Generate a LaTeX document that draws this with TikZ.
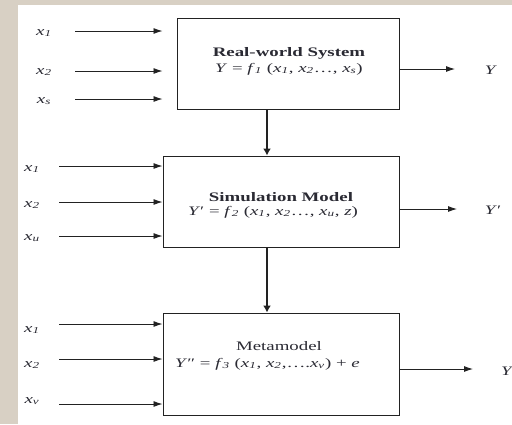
\documentclass[tikz,border=0pt]{standalone}
\usepackage{fontspec}
\setmainfont{Liberation Serif}
\usetikzlibrary{arrows.meta}
\definecolor{beige}{HTML}{D8D0C4}
\definecolor{ink}{HTML}{2A2A33}
\definecolor{linec}{HTML}{222222}
\newcommand{\st}[1]{\scalebox{1.45}[1]{#1}}
\newcommand{\sx}[1]{\textsubscript{\textit{#1}}}
\newcommand{\vx}[1]{\textit{x}\sx{#1}}
\begin{document}
\begin{tikzpicture}[x=1pt,y=-1pt,
  font=\fontsize{13}{15}\selectfont,
  box/.style={draw=linec, line width=1pt, fill=white, inner sep=0pt, rectangle},
  lbl/.style={text=ink, inner sep=0pt},
  harr/.style={draw=linec, line width=0.9pt, -{Latex[length=9pt,width=6pt]}},
  varr/.style={draw=linec, line width=1.3pt, -{Latex[length=7pt,width=8pt]}}]
\useasboundingbox (0,0) rectangle (512,424);
\fill[beige] (0,0) rectangle (512,424);
\fill[white] (18,5) rectangle (512,424);
% boxes
\node[box, minimum width=222pt, minimum height=91pt] (b1) at (288,63.5) {};
\node[box, minimum width=236pt, minimum height=91pt] (b2) at (281,201.5) {};
\node[box, minimum width=236pt, minimum height=102pt] (b3) at (281,364) {};
% box texts
\node[lbl, anchor=base] (t1a) at (289,56) {\st{\textbf{Real-world System}}};
\node[lbl, anchor=base] (t1b) at (289,72) {\st{\textit{Y} = \textit{f}\sx{1} (\vx{1}, \vx{2}\ldots, \vx{s})}};
\node[lbl, anchor=base] (t2a) at (281,201) {\st{\textbf{Simulation Model}}};
\node[lbl, anchor=base] (t2b) at (273,215) {\st{\textit{Y}′ = \textit{f}\sx{2} (\vx{1}, \vx{2}\ldots, \vx{u}, \textit{z})}};
\node[lbl, anchor=base] (t3a) at (279,350) {\st{Metamodel}};
\node[lbl, anchor=base west] (t3b) at (175,367) {\st{\textit{Y}″ = \textit{f}\sx{3} (\vx{1}, \vx{2},\ldots.\vx{v}) + \textit{e}}};
% input labels box1
\node[lbl] (l11) at (44,33) {\st{\vx{1}}};
\node[lbl] (l12) at (44,72) {\st{\vx{2}}};
\node[lbl] (l13) at (44,101) {\st{\vx{s}}};
\coordinate (s11) at (75,31);
\coordinate (s12) at (75,71);
\coordinate (s13) at (75,99);
\draw[harr, shorten >=14pt] (s11) -- (s11 -| b1.west);
\draw[harr, shorten >=14pt] (s12) -- (s12 -| b1.west);
\draw[harr, shorten >=14pt] (s13) -- (s13 -| b1.west);
% input labels box2
\node[lbl] (l21) at (32,169) {\st{\vx{1}}};
\node[lbl] (l22) at (32,205) {\st{\vx{2}}};
\node[lbl] (l23) at (32,238) {\st{\vx{u}}};
\coordinate (s21) at (59,166);
\coordinate (s22) at (59,202);
\coordinate (s23) at (59,236);
\draw[harr] (s21) -- (s21 -| b2.west);
\draw[harr] (s22) -- (s22 -| b2.west);
\draw[harr] (s23) -- (s23 -| b2.west);
% input labels box3
\node[lbl] (l31) at (32,330) {\st{\vx{1}}};
\node[lbl] (l32) at (32,365) {\st{\vx{2}}};
\node[lbl] (l33) at (32,401) {\st{\vx{v}}};
\coordinate (s31) at (59,324);
\coordinate (s32) at (59,359);
\coordinate (s33) at (59,404);
\draw[harr] (s31) -- (s31 -| b3.west);
\draw[harr] (s32) -- (s32 -| b3.west);
\draw[harr] (s33) -- (s33 -| b3.west);
% outputs
\coordinate (o1) at (455,69);
\coordinate (o2) at (457,209);
\coordinate (o3) at (473,369);
\draw[harr] (o1 -| b1.east) -- (o1);
\draw[harr] (o2 -| b2.east) -- (o2);
\draw[harr] (o3 -| b3.east) -- (o3);
\node[lbl] (y1) at (491,70) {\st{\textit{Y}}};
\node[lbl] (y2) at (493,210) {\st{\textit{Y}′}};
\node[lbl, anchor=west] (y3) at (501,371) {\st{\textit{Y}″}};
% vertical connectors
\coordinate (v) at (267,0);
\draw[varr] (b1.south -| v) -- (b2.north -| v);
\draw[varr] (b2.south -| v) -- (b3.north -| v);
\end{tikzpicture}
\end{document}
